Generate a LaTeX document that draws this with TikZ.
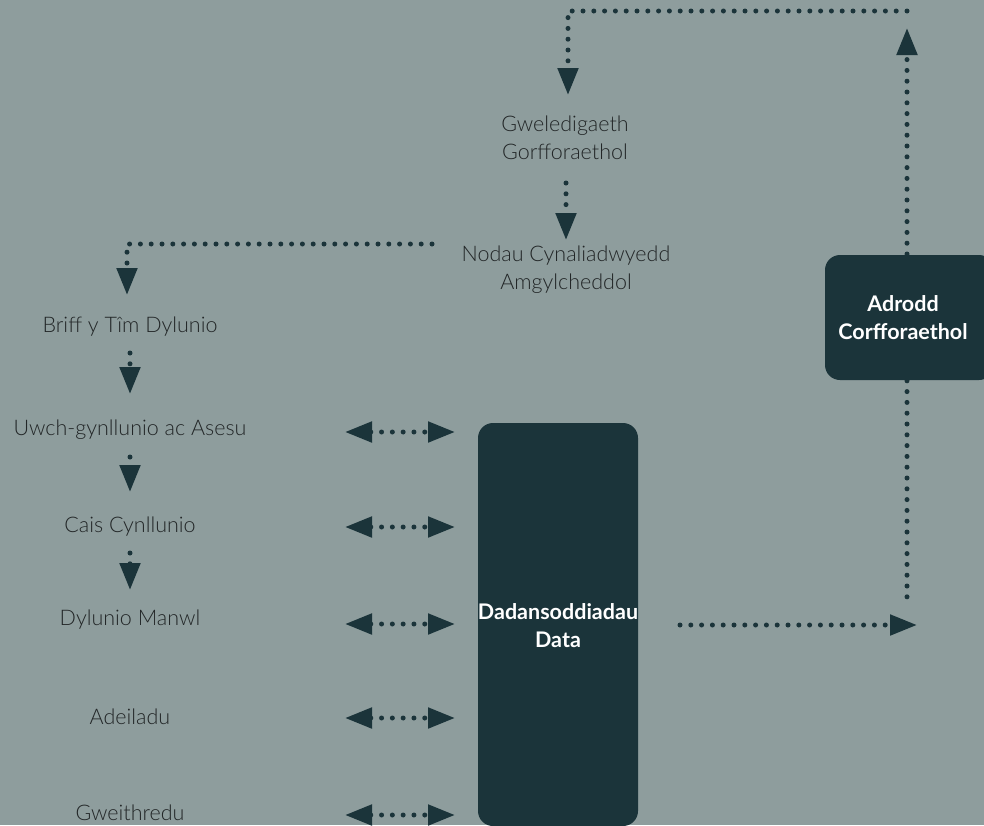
\documentclass[tikz,border=0pt]{standalone}
\usepackage{fontspec}
\setmainfont{Lato}
\newfontfamily\lightfont{Lato Light}
\usetikzlibrary{arrows.meta}
\definecolor{bg}{HTML}{8E9D9D}
\definecolor{dark}{HTML}{1B343A}
\definecolor{txt}{HTML}{222627}
\tikzset{
  lbl/.style={text=txt, font=\lightfont\fontsize{21.5}{28}\selectfont, align=center, inner sep=0pt},
  boxlbl/.style={text=white, font=\fontsize{21.5}{28}\selectfont\bfseries, align=center, inner sep=0pt},
  dbox/.style={fill=dark, rounded corners=15pt},
  dotline/.style={draw=dark, line width=5pt, line cap=round, dash pattern=on 0pt off 10.8pt},
  tip/.style={-{Triangle[length=27pt,width=20pt]}},
  dtip/.style={{Triangle[length=27pt,width=20pt]}-{Triangle[length=27pt,width=20pt]}},
}
\begin{document}
\begin{tikzpicture}[x=1pt,y=-1pt]
\useasboundingbox (0,0) rectangle (984,825);
\fill[bg] (0,0) rectangle (984,825);

% boxes
\fill[dbox] (478,423) rectangle (638,826);
\node[boxlbl] (data) at (558,626) {Dadansoddiadau\\Data};
\fill[dbox] (825,255) rectangle (994,380);
\node[boxlbl] (adrodd) at (903,318) {Adrodd\\Corfforaethol};

% labels
\node[lbl] (gwel) at (565,138) {Gweledigaeth\\Gorfforaethol};
\node[lbl] (nodau) at (566,270) {Nodau Cynaliadwyedd\\Amgylcheddol};
\node[lbl] (briff) at (130,327) {Briff y Tîm Dylunio};
\node[lbl] (uwch) at (130,430) {Uwch-gynllunio ac Asesu};
\node[lbl] (cais) at (130,527) {Cais Cynllunio};
\node[lbl] (dyl) at (130,620) {Dylunio Manwl};
\node[lbl] (adei) at (130,717) {Adeiladu};
\node[lbl] (gwei) at (130,813) {Gweithredu};

% coordinates
\coordinate (adtop) at (907,254);
\coordinate (uptip) at (907,28);
\coordinate (tr) at (907,11);
\coordinate (tl) at (568,11);
\coordinate (gweltip) at (568,95);
\coordinate (g2s) at (566,183);
\coordinate (g2t) at (566,240);
\coordinate (ns) at (432,244);
\coordinate (nc) at (127,244);
\coordinate (bt) at (127,295);
\coordinate (b1s) at (130,353);
\coordinate (b1t) at (130,394);
\coordinate (b2s) at (130,457);
\coordinate (b2t) at (130,492);
\coordinate (b3s) at (130,553);
\coordinate (b3t) at (130,590);
\coordinate (ds) at (680,625);
\coordinate (dt) at (917,625);
\coordinate (adbot) at (907,380);
\coordinate (adend) at (907,598);

% connectors
\draw[dotline,tip] (adtop) -- (uptip);
\draw[dotline,tip] (tr) -- (tl) -- (gweltip);
\draw[dotline,tip] (g2s) -- (g2t);
\draw[dotline,tip] (ns) -- (nc) -- (bt);
\draw[dotline,tip] (b1s) -- (b1t);
\draw[dotline,tip] (b2s) -- (b2t);
\draw[dotline,tip] (b3s) -- (b3t);
\draw[dotline,tip] (ds) -- (dt);
\draw[dotline] ([yshift=10pt]adbot) -- (adend);

\foreach \y/\n in {432/uwch,527/cais,624/dyl,718/adei,815/gwei}{
  \coordinate (L\n) at (345,\y);
  \coordinate (R\n) at (455,\y);
  \draw[dotline,dtip] (L\n) -- (R\n);
}
\end{tikzpicture}
\end{document}
